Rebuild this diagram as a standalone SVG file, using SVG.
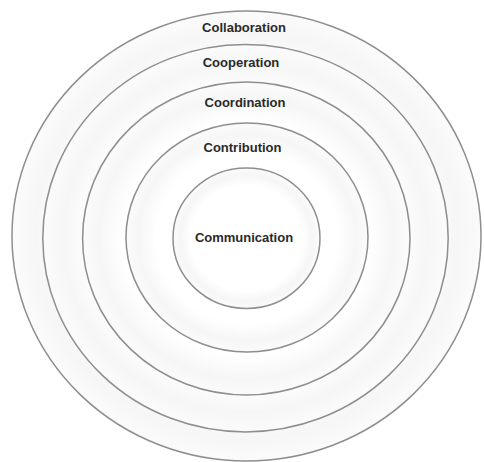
<svg xmlns="http://www.w3.org/2000/svg" width="484" height="462" viewBox="0 0 484 462">
<defs>
<radialGradient id="shade" cx="0.5" cy="0.5" r="0.5">
<stop offset="0" stop-color="#ffffff"/>
<stop offset="0.75" stop-color="#ffffff"/>
<stop offset="0.9" stop-color="#f6f6f6"/>
<stop offset="1" stop-color="#fbfbfb"/>
</radialGradient>
</defs>
<style>
.ring{fill:url(#shade);stroke:#8e8e8e;stroke-width:1.5}
.lbl{font-family:"Liberation Sans",Arial,sans-serif;font-size:13px;font-weight:bold;fill:#2a2a2a;text-anchor:middle}
</style>
<rect width="484" height="462" fill="#ffffff"/>
<g id="collaboration">
<ellipse class="ring" cx="246.5" cy="236" rx="234.5" ry="225"/>
<text class="lbl" x="244" y="31.5">Collaboration</text>
</g>
<g id="cooperation">
<ellipse class="ring" cx="245.5" cy="238.2" rx="202.7" ry="193.7"/>
<text class="lbl" x="241" y="66.5">Cooperation</text>
</g>
<g id="coordination">
<ellipse class="ring" cx="246.3" cy="238.5" rx="163.7" ry="156.5"/>
<text class="lbl" x="245" y="107">Coordination</text>
</g>
<g id="contribution">
<ellipse class="ring" cx="247" cy="237.5" rx="121" ry="114.5"/>
<text class="lbl" x="242.5" y="151.5">Contribution</text>
</g>
<g id="communication">
<ellipse class="ring" cx="246.5" cy="238.2" rx="73.5" ry="70.2"/>
<text class="lbl" x="244" y="242">Communication</text>
</g>
<g id="connectors"/>
</svg>
